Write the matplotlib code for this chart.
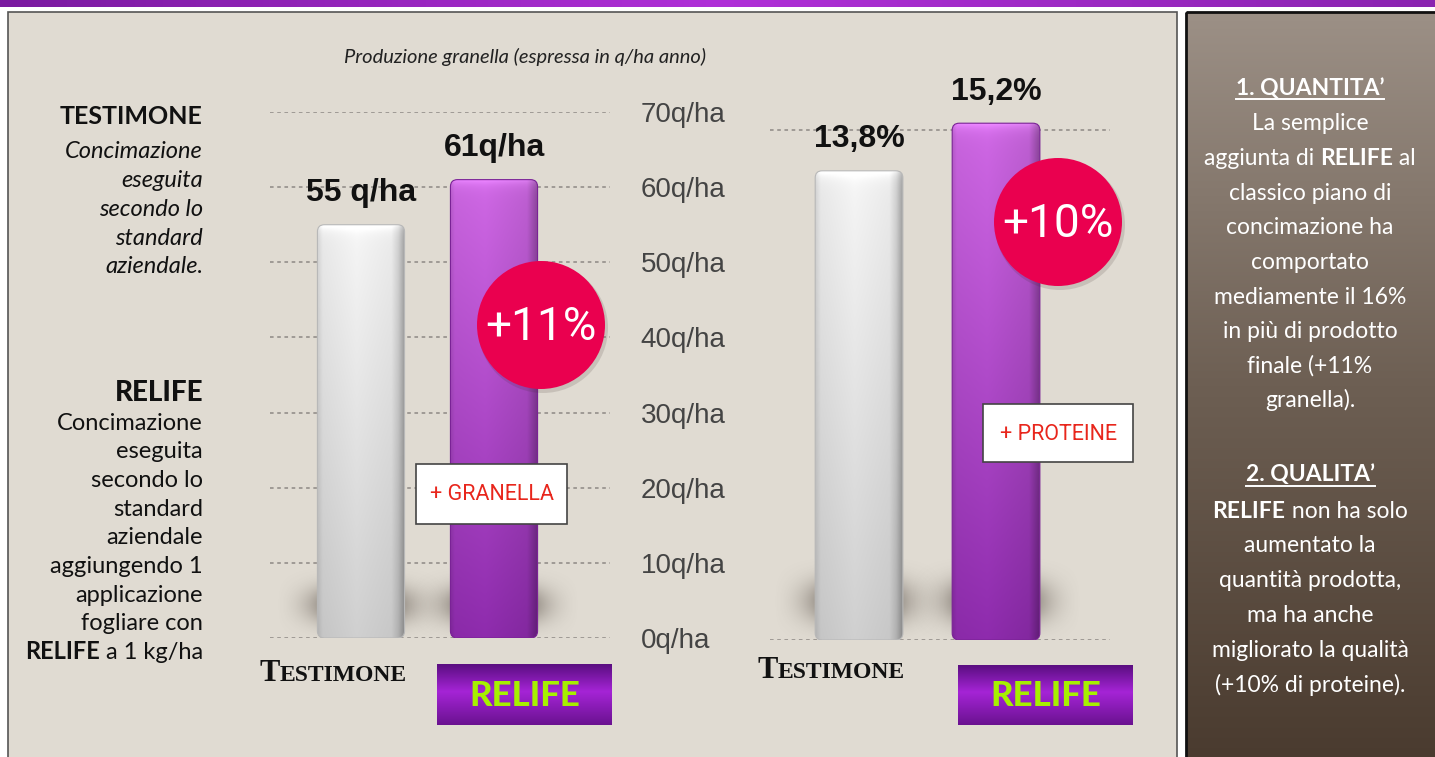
import numpy as np
import matplotlib
matplotlib.use('Agg')
import matplotlib.pyplot as plt
from matplotlib.colors import to_rgb
from matplotlib.patches import Rectangle, Circle, FancyBboxPatch

W, H = 1435, 757

# ---- data ----
groups = ['Testimone', 'Relife']
yield_q = [55, 61]
yield_labels = ['55 q/ha', '61q/ha']
yield_ticks = [0, 10, 20, 30, 40, 50, 60, 70]
protein_pct = [13.8, 15.2]
protein_labels = ['13,8%', '15,2%']
protein_grid = [0, 15]
yield_gain = '+11%'
protein_gain = '+10%'

left_testimone = ['Concimazione', 'eseguita', 'secondo lo', 'standard', 'aziendale.']
left_relife = ['Concimazione', 'eseguita', 'secondo lo', 'standard', 'aziendale',
               'aggiungendo 1', 'applicazione', 'fogliare con', '**RELIFE** a 1 kg/ha']
side_quantita = ['La semplice', 'aggiunta di **RELIFE** al', 'classico piano di',
                 'concimazione ha', 'comportato', 'mediamente il 16%',
                 'in più di prodotto', 'finale (+11%', 'granella).']
side_qualita = ['**RELIFE** non ha solo', 'aumentato la', 'quantità prodotta,',
                'ma ha anche', 'migliorato la qualità', '(+10% di proteine).']

SANS = 'Liberation Sans'
BODY = 'Lato'


def grad(stops, n=256):
    pos = [p for p, _ in stops]
    cols = np.array([to_rgb(c) for _, c in stops])
    t = np.linspace(0, 1, n)
    return np.stack([np.interp(t, pos, cols[:, k]) for k in range(3)], axis=-1)


fig = plt.figure(figsize=(W / 100, H / 100), dpi=100)
fig.patch.set_facecolor('white')

# background layer in pixel coords
bg = fig.add_axes([0, 0, 1, 1], zorder=0)
bg.axis('off')
top_band = grad([(0, '#7a1aa0'), (0.5, '#b030d8'), (1, '#8a24b0')])
bg.imshow(top_band[None, :, :], extent=(0, W, 7, 0), aspect='auto')
bg.add_patch(Rectangle((8, 12), 1169, 760, facecolor='#e0dbd2', edgecolor='#555555', lw=1.2))
side = grad([(0, '#9c9086'), (0.5, '#6d5f53'), (1, '#4a3b2f')])
bg.imshow(side[:, None, :], extent=(1186, W + 2, 760, 12), aspect='auto')
bg.add_patch(Rectangle((1186, 12), 260, 760, facecolor='none', edgecolor='#111111', lw=2))
bg.set_xlim(0, W)
bg.set_ylim(H, 0)


def make_chart(rect, xlim, ylim, ticks):
    ax = fig.add_axes(rect, zorder=1)
    ax.set_facecolor('none')
    for s in ax.spines.values():
        s.set_visible(False)
    ax.set_xticks([])
    ax.set_yticks(ticks)
    ax.yaxis.grid(True, ls=(0, (2, 2)), color='#9a9590', lw=1.3)
    ax.set_axisbelow(True)
    ax.set_xlim(*xlim)
    ax.set_ylim(*ylim)
    return ax


def shade_bar(ax, bar, top_col, bot_col, hz, edge):
    x0, w, h = bar.get_x(), bar.get_width(), bar.get_height()
    p0 = ax.transData.transform((0, 0))
    p1 = ax.transData.transform((1, 1))
    sx, sy = p1[0] - p0[0], p1[1] - p0[1]
    r = 7 / sx
    shape = FancyBboxPatch((x0, 0), w, h, boxstyle=f'round,pad=0,rounding_size={r}',
                           mutation_aspect=sx / sy, facecolor='none', edgecolor=edge,
                           lw=0.8, zorder=4)
    ax.add_patch(shape)
    bar.set_visible(False)
    v = grad([(0, top_col), (1, bot_col)], 200)
    img = np.clip(v[:, None, :] * hz[None, :, None], 0, 1)
    # light rim along the rounded top
    rim = np.linspace(0, 1, 200)
    img = np.clip(img + (0.12 * np.exp(-rim / 0.012))[:, None, None], 0, 1)
    im = ax.imshow(img, extent=(x0, x0 + w, 0, h), aspect='auto', zorder=3,
                   interpolation='bilinear')
    im.set_clip_path(shape)


# soft blurred blob used for the floor shadow (fades to zero at its edges)
gx, gy = np.meshgrid(np.linspace(-1, 1, 160), np.linspace(-1, 1, 80))
blob = np.zeros((80, 160, 4))
blob[..., :3] = to_rgb('#3c322a')
win = np.clip(1 - gx ** 2, 0, 1) * np.clip(1 - gy ** 2, 0, 1)
blob[..., 3] = 0.95 * np.exp(-((gx / 0.7) ** 2 + (gy / 0.6) ** 2) * 1.2) * win


def shadow(ax, x, w, h):
    ax.imshow(blob, extent=(x - w * 0.98, x + w * 0.98, -h * 0.1, h), aspect='auto',
              zorder=2, interpolation='bilinear')


gray_hz = np.interp(np.linspace(0, 1, 80), [0, 0.06, 0.45, 0.85, 0.93, 1],
                    [0.86, 0.95, 1.0, 0.96, 0.85, 0.66])
purp_hz = np.interp(np.linspace(0, 1, 80), [0, 0.05, 0.4, 0.88, 1],
                    [0.9, 1.0, 1.03, 0.95, 0.7])


def draw_bars(ax, vals, labels, width, ylim_top):
    xs = np.arange(len(vals))
    for x in xs:
        shadow(ax, x, width, ylim_top * 0.14)
    bars = ax.bar(xs, vals, width=width, color=['#e4e4e4', '#a63ec4'], zorder=3)
    shade_bar(ax, bars[0], '#f6f6f6', '#d0d0d0', gray_hz, '#b8b8b8')
    shade_bar(ax, bars[1], '#c965de', '#8a2aa8', purp_hz, '#7a2296')
    for x, v, lab in zip(xs, vals, labels):
        ax.annotate(lab, (x, v), xytext=(0, 12), textcoords='offset points',
                    ha='center', va='bottom', fontsize=23, fontweight='bold',
                    family=SANS, color='#111111', zorder=5)
    return bars


# chart 1: yield
ax1 = make_chart([270 / W, (H - 638) / H, 340 / W, 526 / H], (-0.684, 1.872), (0, 70), yield_ticks)
draw_bars(ax1, yield_q, yield_labels, 0.655, 70)
ax1.set_xlim(-0.684, 1.872)
ax1.set_ylim(0, 70)
ax1.yaxis.tick_right()
ax1.set_yticklabels([f'{v}q/ha' for v in yield_ticks])
ax1.tick_params(axis='y', length=0, pad=22, labelsize=20, labelcolor='#444444')
for t in ax1.get_yticklabels():
    t.set_family(SANS)

# chart 2: protein
ax2 = make_chart([770 / W, (H - 640) / H, 340 / W, 612 / H], (-0.65, 1.832), (0, 18), protein_grid)
draw_bars(ax2, protein_pct, protein_labels, 0.64, 18)
ax2.set_xlim(-0.65, 1.832)
ax2.set_ylim(0, 18)
ax2.tick_params(axis='y', length=0, labelleft=False, labelright=False)

# overlay layer in pixel coords
ov = fig.add_axes([0, 0, 1, 1], zorder=4)
ov.axis('off')
ov.set_facecolor('none')
ov.set_xlim(0, W)
ov.set_ylim(H, 0)
renderer = fig.canvas.get_renderer()


def parse(line):
    parts = []
    for i, seg in enumerate(line.split('**')):
        if seg:
            parts.append((seg, {'fontweight': 'bold' if i % 2 else 'normal'}))
    return parts


def rich(x, y, parts, ha='left', **kw):
    texts = [ov.text(0, y, s, va='baseline', **{**kw, **p}) for s, p in parts]
    widths = [t.get_window_extent(renderer).width for t in texts]
    total = sum(widths)
    start = {'left': x, 'right': x - total, 'center': x - total / 2}[ha]
    for t, w in zip(texts, widths):
        t.set_x(start)
        start += w
    return start - total, total


# subtitle
ov.text(525, 57, 'Produzione granella (espressa in q/ha anno)', ha='center', va='center',
        fontsize=14.5, style='italic', family=BODY, color='#222222')

# left description
ov.text(203, 117, 'TESTIMONE', ha='right', va='center', fontsize=18, fontweight='bold',
        family=BODY, color='#111111')
for i, line in enumerate(left_testimone):
    ov.text(203, 152 + i * 28.7, line, ha='right', va='center', fontsize=17,
            style='italic', family=BODY, color='#111111')
ov.text(203, 393, 'RELIFE', ha='right', va='center', fontsize=20, fontweight='black',
        family=BODY, color='#111111')
for i, line in enumerate(left_relife):
    rich(203, 423 + i * 28.7 + 6.5, parse(line), ha='right', fontsize=17, family=BODY,
         color='#111111')


# side panel
def heading(y, s):
    x0, w = rich(1310, y + 6.5, [(s, {'fontweight': 'bold'})], ha='center', fontsize=16.5,
                 family=BODY, color='white')
    ov.plot([x0, x0 + w], [y + 10.5, y + 10.5], color='white', lw=1.4)


heading(88, '1. QUANTITA\u2019')
for i, line in enumerate(side_quantita):
    rich(1310, 124 + i * 34.6 + 6.5, parse(line), ha='center', fontsize=16.5, family=BODY,
         color='white')
heading(475, '2. QUALITA\u2019')
for i, line in enumerate(side_qualita):
    rich(1310, 511 + i * 34.9 + 6.5, parse(line), ha='center', fontsize=16.5, family=BODY,
         color='white')

# gain circles
for (cx, cy), txt in [((541, 325), yield_gain), ((1058, 222), protein_gain)]:
    ov.add_patch(Circle((cx + 2, cy + 3), 65, facecolor='#3a2a2a', alpha=0.15, edgecolor='none'))
    ov.add_patch(Circle((cx, cy), 64, facecolor='#ea004f', edgecolor='none'))
    ov.text(cx, cy + 2, txt, ha='center', va='center', fontsize=33, family='Roboto',
            color='white')

# callout badges
for (x0, y0, x1, y1), txt in [((416, 464, 567, 524), '+ GRANELLA'),
                              ((983, 404, 1133, 462), '+ PROTEINE')]:
    ov.add_patch(Rectangle((x0, y0), x1 - x0, y1 - y0, facecolor='white',
                           edgecolor='#444444', lw=1.2))
    ov.text((x0 + x1) / 2, (y0 + y1) / 2 + 1, txt, ha='center', va='center', fontsize=15.5,
            family='Roboto', color='#e8261c')

# category labels (small caps look)
box = grad([(0, '#5a0e80'), (0.45, '#a524d6'), (1, '#6a1290')])
for cx, by in [(333, 681), (831, 678)]:
    rich(cx, by, [('T', {'fontsize': 22}), ('ESTIMONE', {'fontsize': 17})], ha='center',
         fontweight='bold', family='Liberation Serif', color='#111111')
for x0, y0, x1, y1 in [(437, 664, 612, 725), (958, 665, 1133, 725)]:
    ov.imshow(box[:, None, :], extent=(x0, x1, y1, y0), aspect='auto', zorder=4)
    ov.text((x0 + x1) / 2, (y0 + y1) / 2 + 1, 'RELIFE', ha='center', va='center',
            fontsize=25, fontweight='black', family=BODY, color='#a6f000', zorder=5)
ov.set_xlim(0, W)
ov.set_ylim(H, 0)

fig.savefig('out.png', dpi=100, facecolor=fig.get_facecolor())
